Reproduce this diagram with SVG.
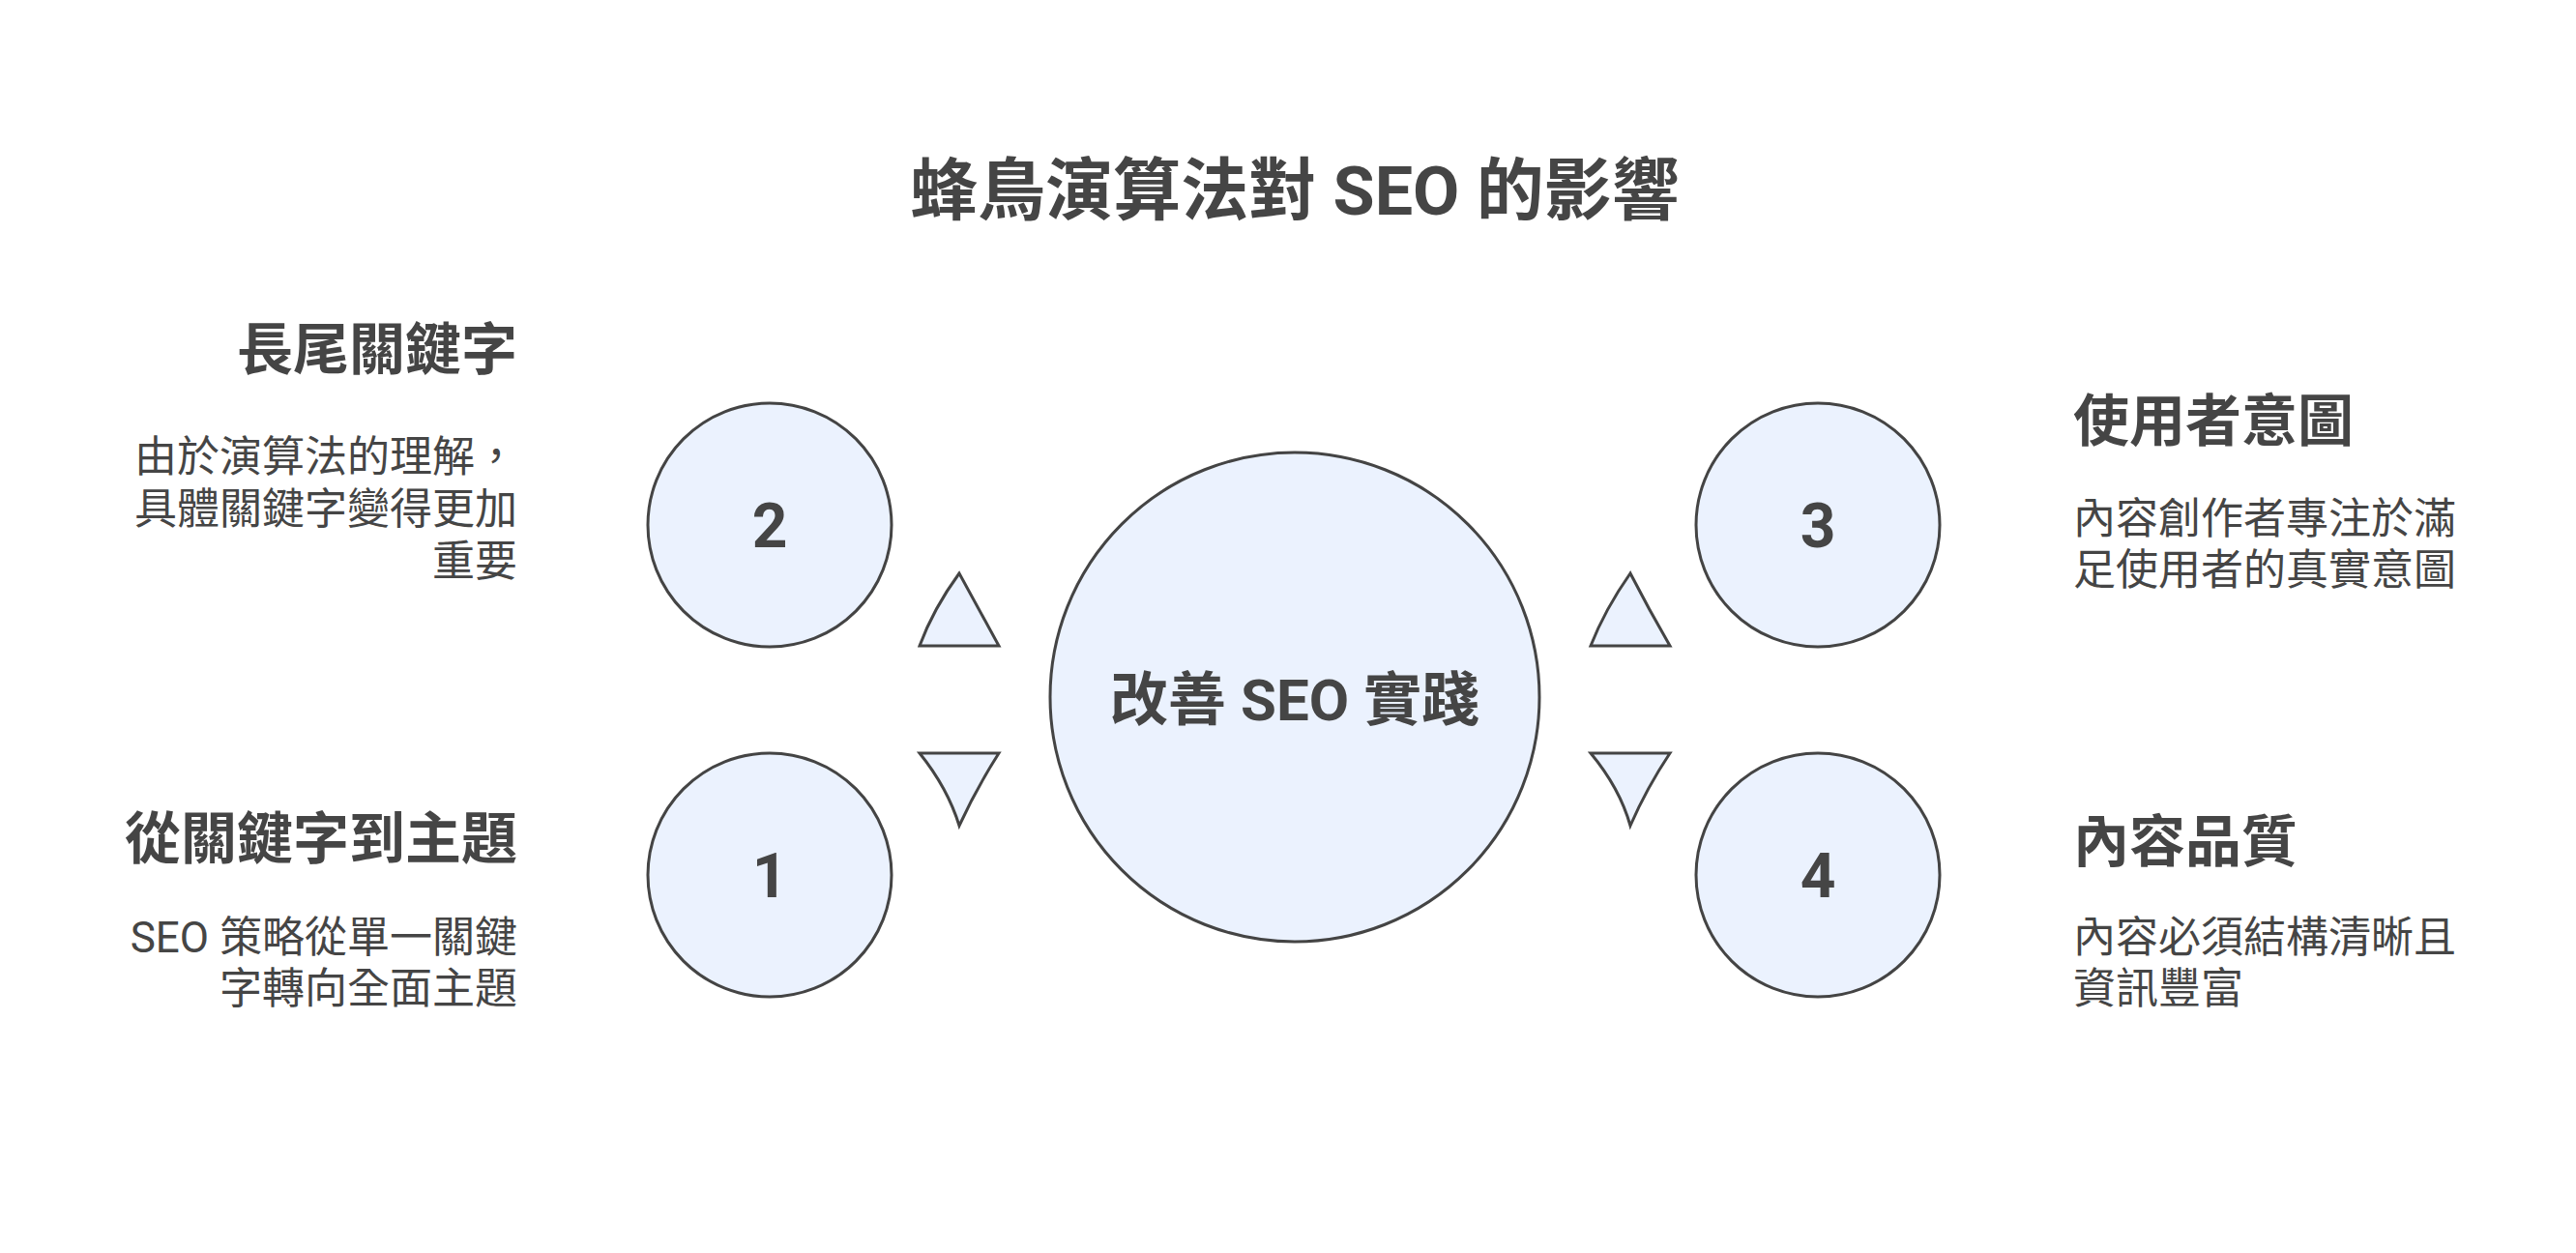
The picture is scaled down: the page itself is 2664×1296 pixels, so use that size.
<svg xmlns="http://www.w3.org/2000/svg" width="2664" height="1296" viewBox="0 0 2664 1296">
<style>
.c{fill:#ebf2fe;stroke:#444;stroke-width:3}
.t{font-family:Roboto,"Noto Sans CJK TC",sans-serif;fill:#454545}
.h{font-weight:bold;font-size:58px}
.d{font-size:44px}
.n{font-weight:bold;font-size:64px;text-anchor:middle}
</style>
<rect width="2664" height="1296" fill="#fff"/>
<text class="t" x="1339" y="222" font-size="70" font-weight="bold" text-anchor="middle">蜂鳥演算法對 SEO 的影響</text>
<g id="center"><circle class="c" cx="1339" cy="721" r="253"/><text class="t" x="1339" y="745" font-size="60" font-weight="bold" text-anchor="middle">改善 SEO 實踐</text></g>
<g id="n2"><circle class="c" cx="796" cy="543" r="126"/><text class="t n" x="796" y="566">2</text>
<text class="t h" x="535" y="382" text-anchor="end">長尾關鍵字</text>
<text class="t d" text-anchor="end"><tspan x="535" y="488">由於演算法的理解，</tspan><tspan x="535" y="542">具體關鍵字變得更加</tspan><tspan x="535" y="596">重要</tspan></text></g>
<g id="n1"><circle class="c" cx="796" cy="905" r="126"/><text class="t n" x="796" y="928">1</text>
<text class="t h" x="535" y="888" text-anchor="end">從關鍵字到主題</text>
<text class="t d" text-anchor="end"><tspan x="535" y="985">SEO 策略從單一關鍵</tspan><tspan x="535" y="1038">字轉向全面主題</tspan></text></g>
<g id="n3"><circle class="c" cx="1880" cy="543" r="126"/><text class="t n" x="1880" y="566">3</text>
<text class="t h" x="2144" y="456">使用者意圖</text>
<text class="t d"><tspan x="2144" y="552">內容創作者專注於滿</tspan><tspan x="2144" y="605">足使用者的真實意圖</tspan></text></g>
<g id="n4"><circle class="c" cx="1880" cy="905" r="126"/><text class="t n" x="1880" y="928">4</text>
<text class="t h" x="2144" y="891">內容品質</text>
<text class="t d"><tspan x="2144" y="985">內容必須結構清晰且</tspan><tspan x="2144" y="1038">資訊豐富</tspan></text></g>
<g id="connectors">
<path class="c" d="M992 593 Q965 630 951 668 L1033 668 Z"/>
<path class="c" d="M951 779 L1033 779 Q1010 815 992 854 Q980 815 951 779 Z"/>
<path class="c" d="M1686 593 Q1660 630 1645 668 L1727 668 Q1705 630 1686 593 Z"/>
<path class="c" d="M1645 779 L1727 779 Q1703 815 1686 854 Q1675 815 1645 779 Z"/>
</g>
</svg>
